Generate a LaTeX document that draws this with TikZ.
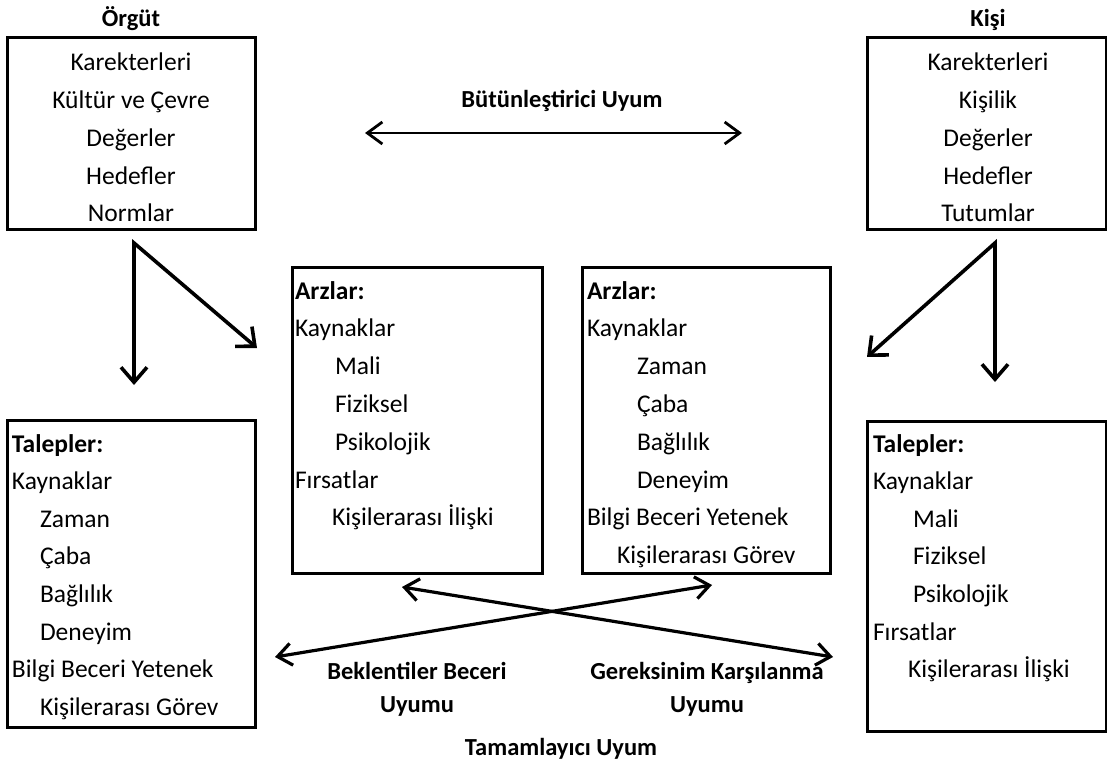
\documentclass[tikz,border=0pt]{standalone}
\usepackage{fontspec}
\setmainfont{Carlito}
\usetikzlibrary{arrows.meta}
\begin{document}
\begin{tikzpicture}[x=1pt,y=-1pt,
  every node/.style={inner sep=0pt,outer sep=0pt},
  txt/.style={font=\fontsize{25.5}{30}\selectfont},
  ttl/.style={font=\fontsize{24.5}{30}\selectfont\bfseries},
  frame/.style={draw,line width=3pt,anchor=north west},
  bigarr/.style={line width=3.6pt,line join=miter,
    {Straight Barb[length=15pt,width=26pt]}-{Straight Barb[length=15pt,width=26pt]}},
  crossarr/.style={line width=3.2pt,
    {Straight Barb[length=14pt,width=22pt]}-{Straight Barb[length=14pt,width=22pt]}},
  toparr/.style={line width=2.8pt,
    {Straight Barb[length=15pt,width=22pt]}-{Straight Barb[length=15pt,width=22pt]}}]
\useasboundingbox (0,0) rectangle (1107,767);

% titles
\node[ttl,anchor=base] (torg) at (131,27) {Örgüt};
\node[ttl,anchor=base] (tkisi) at (988,27) {Kişi};

% top boxes
\node[frame,minimum width=248pt,minimum height=192pt] (org) at (7,38) {};
\node[frame,minimum width=239pt,minimum height=192pt] (kisi) at (867,38) {};
\foreach \t [count=\i from 0] in {Karekterleri,Kültür ve Çevre,Değerler,Hedefler,Normlar}
  \node[txt,anchor=base] (o\i) at (131,{71+37.75*\i}) {\t};
\foreach \t [count=\i from 0] in {Karekterleri,Kişilik,Değerler,Hedefler,Tutumlar}
  \node[txt,anchor=base] (k\i) at (988,{71+37.75*\i}) {\t};

% integrative fit
\node[ttl,anchor=base] (but) at (562,108) {Bütünleştirici Uyum};
\coordinate (bl) at (365,133);
\coordinate (br) at (742,133);
\draw[toparr] (bl) -- (br);

% middle boxes
\node[frame,minimum width=250pt,minimum height=306pt] (arzL) at (292,267) {};
\node[frame,minimum width=248pt,minimum height=306pt] (arzR) at (582,267) {};
\foreach \d/\t [count=\i from 0] in {0/{\textbf{Arzlar:}},0/Kaynaklar,40/Mali,40/Fiziksel,40/Psikolojik,0/Fırsatlar,37/Kişilerarası İlişki}
  \node[txt,anchor=base west] (al\i) at ({295+\d},{299+37.8*\i}) {\t};
\foreach \d/\t [count=\i from 0] in {0/{\textbf{Arzlar:}},0/Kaynaklar,50/Zaman,50/Çaba,50/Bağlılık,50/Deneyim,0/Bilgi Beceri Yetenek,30/Kişilerarası Görev}
  \node[txt,anchor=base west] (ar\i) at ({587+\d},{299+37.8*\i}) {\t};

% bottom boxes
\node[frame,minimum width=248pt,minimum height=307pt] (talL) at (7,420) {};
\node[frame,minimum width=239pt,minimum height=310pt] (talR) at (867,421) {};
\foreach \d/\t [count=\i from 0] in {0/{\textbf{Talepler:}},0/Kaynaklar,28/Zaman,28/Çaba,28/Bağlılık,28/Deneyim,0/Bilgi Beceri Yetenek,28/Kişilerarası Görev}
  \node[txt,anchor=base west] (tl\i) at ({12+\d},{452+37.6*\i}) {\t};
\foreach \d/\t [count=\i from 0] in {0/{\textbf{Talepler:}},0/Kaynaklar,40/Mali,40/Fiziksel,40/Psikolojik,0/Fırsatlar,35/Kişilerarası İlişki}
  \node[txt,anchor=base west] (tr\i) at ({873+\d},{452+37.6*\i}) {\t};

% corner arrows
\coordinate (lt) at (134,243);
\coordinate (ld) at (134,385);
\coordinate (lr) at (257,348);
\draw[bigarr] (lr) -- (lt) -- (ld);
\coordinate (rt) at (995,243);
\coordinate (rd) at (995,382);
\coordinate (rl) at (867,357);
\draw[bigarr] (rl) -- (rt) -- (rd);

% crossing arrows
\coordinate (ca1) at (402,587);
\coordinate (ca2) at (833,657);
\coordinate (cb1) at (275,657);
\coordinate (cb2) at (712,585);
\draw[crossarr] (ca1) -- (ca2);
\draw[crossarr] (cb1) -- (cb2);

% labels
\node[ttl,anchor=base] (bek1) at (417,679) {Beklentiler Beceri};
\node[ttl,anchor=base] (bek2) at (417,712) {Uyumu};
\node[ttl,anchor=base] (ger1) at (707,679) {Gereksinim Karşılanma};
\node[ttl,anchor=base] (ger2) at (707,712) {Uyumu};
\node[ttl,anchor=base] (tam) at (561,755) {Tamamlayıcı Uyum};
\end{tikzpicture}
\end{document}
